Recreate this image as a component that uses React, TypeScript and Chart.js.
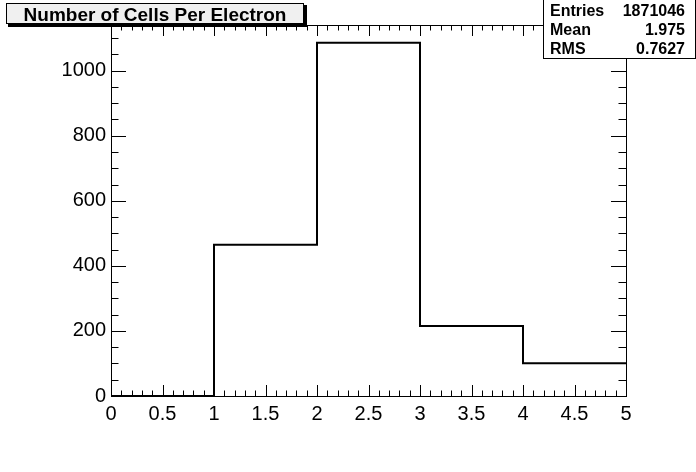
import React, { useEffect, useRef } from "react";
import { Chart, registerables } from "chart.js";

Chart.register(...registerables);

// ---- data ----
const binEdges = [0, 1, 2, 3, 4, 5];
const binCounts = [0, 465, 1086, 215, 101];
const xTickStep = 0.5;
const xMinorStep = 0.1;
const yTickStep = 200;
const yMinorStep = 50;
const titleText = "Number of Cells Per Electron";
const statsLabels = ["Entries", "Mean", "RMS"];
const statsValues = ["1871046", "1.975", "0.7627"];

const FONT = "'Liberation Sans', Arial, Helvetica, sans-serif";

const decorPlugin = {
  id: "rootDecor",
  afterDraw(chart: any) {
    const ctx = chart.ctx as CanvasRenderingContext2D;
    const { left, right, top, bottom } = chart.chartArea;
    const xs = chart.scales.x;
    const ys = chart.scales.y;
    ctx.save();
    ctx.strokeStyle = "#000";
    ctx.lineWidth = 1;
    // frame
    ctx.strokeRect(Math.round(left) + 0.5, Math.round(top) + 0.5, Math.round(right - left), Math.round(bottom - top));
    const h = bottom - top;
    const w = right - left;
    const xMajorLen = Math.round(h * 0.03);
    const yMajorLen = Math.round(w * 0.03);
    ctx.beginPath();
    const nx = Math.round((xs.max - xs.min) / xMinorStep);
    for (let i = 0; i <= nx; i++) {
      const v = xs.min + i * xMinorStep;
      const px = Math.round(xs.getPixelForValue(v)) + 0.5;
      const isMajor = Math.abs(v / xTickStep - Math.round(v / xTickStep)) < 1e-6;
      const len = isMajor ? xMajorLen : xMajorLen / 2;
      ctx.moveTo(px, bottom);
      ctx.lineTo(px, bottom - len);
      ctx.moveTo(px, top);
      ctx.lineTo(px, top + len);
    }
    const ny = Math.floor((ys.max - ys.min) / yMinorStep);
    for (let i = 0; i <= ny; i++) {
      const v = ys.min + i * yMinorStep;
      const py = Math.round(ys.getPixelForValue(v)) + 0.5;
      const isMajor = v % yTickStep === 0;
      const len = isMajor ? yMajorLen : yMajorLen / 2;
      ctx.moveTo(left, py);
      ctx.lineTo(left + len, py);
      ctx.moveTo(right, py);
      ctx.lineTo(right - len, py);
    }
    ctx.stroke();

    // title box
    ctx.fillStyle = "#000";
    ctx.fillRect(8, 5, 299, 22);
    ctx.fillStyle = "#f0f0f0";
    ctx.fillRect(6, 3, 298, 21);
    ctx.strokeRect(6.5, 3.5, 297, 20);
    ctx.fillStyle = "#000";
    ctx.font = `bold 19px ${FONT}`;
    ctx.textAlign = "center";
    ctx.textBaseline = "alphabetic";
    ctx.fillText(titleText, 155, 21);

    // stats box
    ctx.fillStyle = "#fff";
    ctx.fillRect(543, 0, 152, 59);
    ctx.strokeRect(543.5, -0.5, 152, 59);
    ctx.fillStyle = "#000";
    ctx.font = `bold 16px ${FONT}`;
    const baselines = [16, 35, 54];
    statsLabels.forEach((lab, i) => {
      ctx.textAlign = "left";
      ctx.fillText(lab, 550, baselines[i]);
      ctx.textAlign = "right";
      ctx.fillText(statsValues[i], 685, baselines[i]);
    });
    ctx.restore();
  },
};

export default function App() {
  const ref = useRef<HTMLCanvasElement | null>(null);
  useEffect(() => {
    if (!ref.current) return;
    const points = binEdges.map((x, i) => ({
      x,
      y: binCounts[Math.min(i, binCounts.length - 1)],
    }));
    const yMax = Math.max(...binCounts) * 1.05;
    const chart = new Chart(ref.current, {
      type: "line",
      data: {
        datasets: [
          {
            data: points,
            stepped: "before",
            borderColor: "#000",
            borderWidth: 2,
            pointRadius: 0,
            fill: false,
            tension: 0,
          },
        ],
      },
      options: {
        animation: false,
        responsive: false,
        maintainAspectRatio: false,
        layout: { padding: { left: 0, right: 70, top: 25, bottom: 0 } },
        plugins: {
          legend: { display: false },
          title: { display: false },
          tooltip: { enabled: false },
        },
        scales: {
          x: {
            type: "linear",
            min: binEdges[0],
            max: binEdges[binEdges.length - 1],
            grid: { display: false, drawTicks: false },
            border: { display: false },
            ticks: {
              stepSize: xTickStep,
              color: "#000",
              font: { family: FONT, size: 20 },
              padding: 6,
              maxRotation: 0,
              autoSkip: false,
              includeBounds: false,
              callback: (v: any) => String(v),
            },
            afterFit: (s: any) => {
              s.height = 76;
            },
          },
          y: {
            type: "linear",
            min: 0,
            max: yMax,
            grid: { display: false, drawTicks: false },
            border: { display: false },
            ticks: {
              stepSize: yTickStep,
              color: "#000",
              font: { family: FONT, size: 20 },
              padding: 5,
              includeBounds: false,
              callback: (v: any) => String(v),
            },
            afterFit: (s: any) => {
              s.width = 111;
            },
          },
        },
      },
      plugins: [decorPlugin],
    });
    return () => chart.destroy();
  }, []);
  return (
    <div style={{ position: "absolute", left: 0, top: 0, width: 696, height: 472, background: "#fff" }}>
      <canvas ref={ref} width={696} height={472} />
    </div>
  );
}
